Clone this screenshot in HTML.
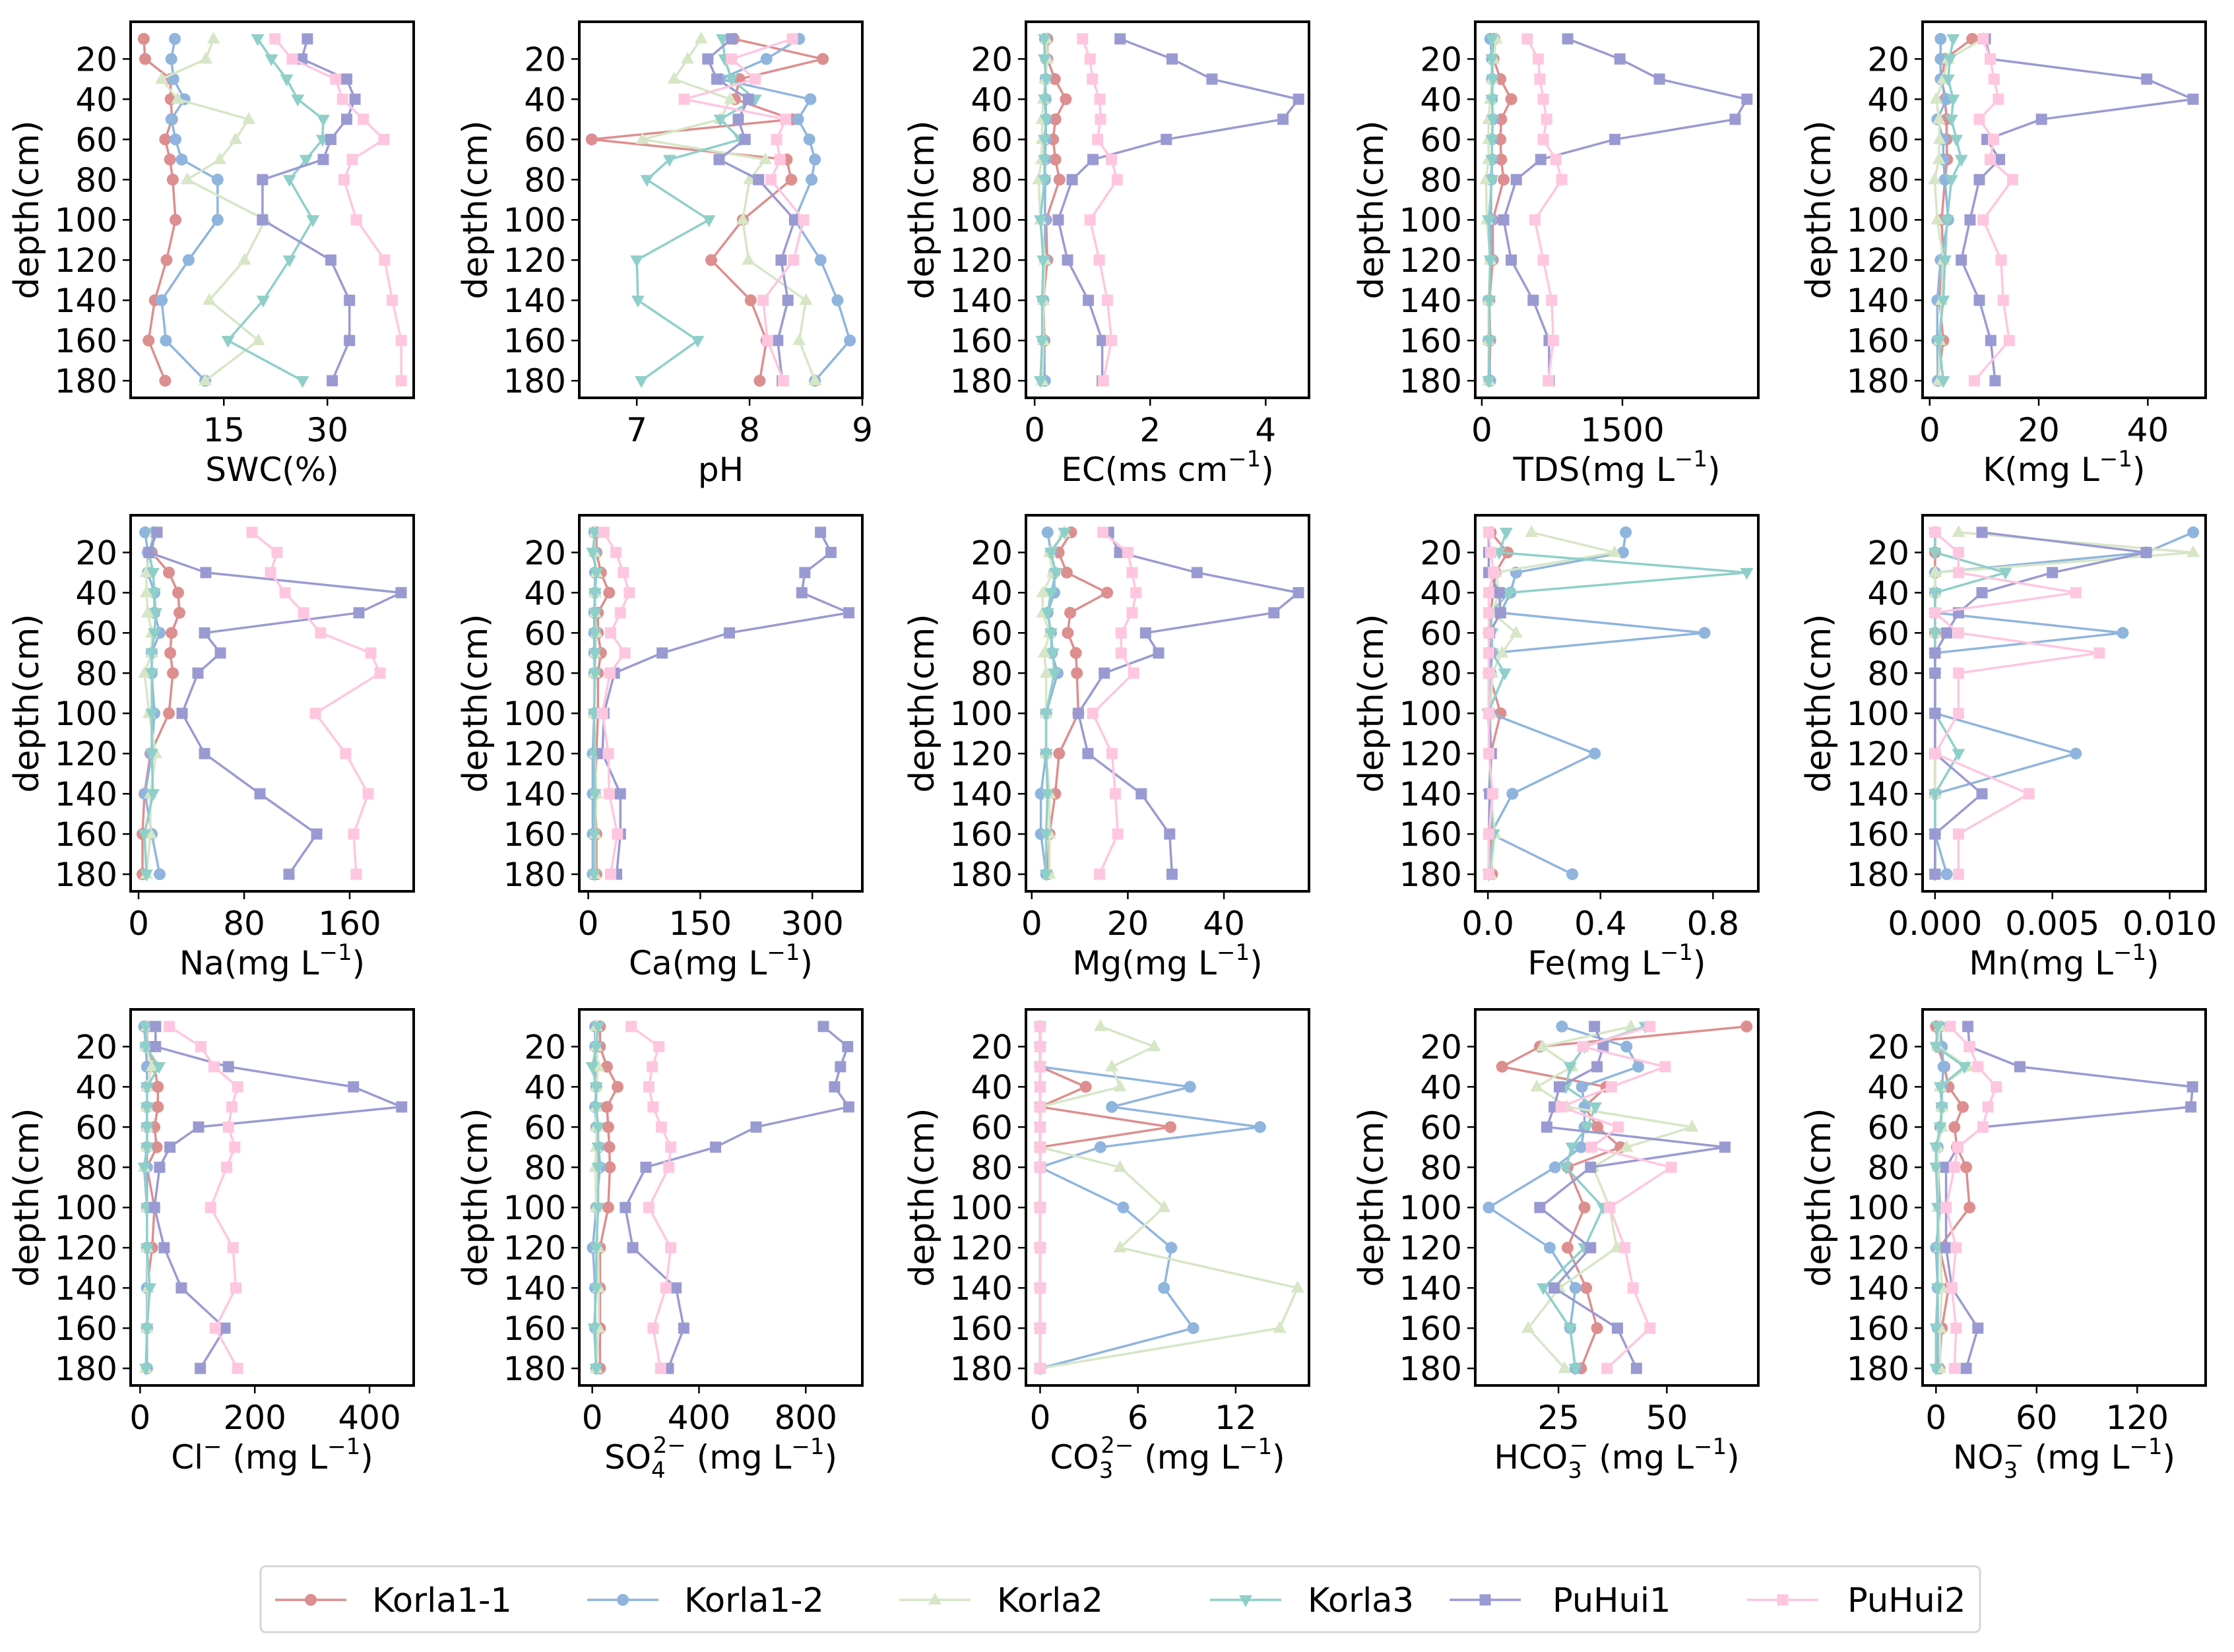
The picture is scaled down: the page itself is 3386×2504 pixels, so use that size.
<!DOCTYPE html>
<html><head><meta charset="utf-8"><style>
body{margin:0;background:#fff}
svg{display:block;font-family:"DejaVu Sans","Liberation Sans",sans-serif}
</style></head><body>
<svg id="fig" width="3386" height="2504" viewBox="0 0 3386 2504" xmlns="http://www.w3.org/2000/svg"></svg>
<script>
const depths=[10,20,30,40,50,60,70,80,100,120,140,160,180];
const seriesNames=["Korla1-1","Korla1-2","Korla2","Korla3","PuHui1","PuHui2"];
const yTicks=[20,40,60,80,100,120,140,160,180];
const swc=[[3.4,3.6,7.3,7.3,7.5,6.5,7.2,7.6,8.0,6.7,5.0,4.1,6.5],[7.9,7.4,7.7,9.3,7.4,8.0,8.9,14.1,14.1,9.9,6.0,6.6,12.3],[13.5,12.4,6.0,8.3,18.6,16.7,14.4,9.7,21.0,18.0,12.9,20.0,12.3],[19.9,21.9,24.1,25.7,29.4,29.3,26.9,24.5,27.9,24.5,20.7,15.6,26.4],[27.1,26.3,32.8,34.0,32.8,30.5,29.4,20.6,20.6,30.5,33.2,33.2,30.7],[22.4,24.9,31.2,32.2,35.2,38.2,33.6,32.4,34.2,38.3,39.4,40.7,40.7]];
const ph=[[7.86,8.65,7.91,7.87,8.38,6.6,8.33,8.37,7.94,7.66,8.01,8.15,8.09],[8.44,8.15,7.74,8.54,8.43,8.53,8.58,8.55,8.4,8.63,8.78,8.89,8.58],[7.57,7.45,7.33,7.83,7.74,7.05,8.14,8.0,7.94,7.99,8.5,8.44,8.58],[7.76,7.78,7.84,8.05,7.74,7.92,7.29,7.09,7.64,7.0,7.01,7.54,7.04],[7.84,7.63,7.71,7.99,7.9,7.96,7.73,8.08,8.4,8.28,8.34,8.25,8.29],[8.38,7.84,8.05,7.42,8.32,8.24,8.27,8.19,8.48,8.39,8.12,8.16,8.3]];
const ec=[[0.22,0.22,0.35,0.54,0.36,0.32,0.36,0.43,0.2,0.22,0.15,0.17,0.17],[0.18,0.2,0.19,0.19,0.2,0.19,0.18,0.18,0.18,0.18,0.15,0.15,0.18],[0.2,0.22,0.18,0.15,0.13,0.13,0.12,0.07,0.1,0.18,0.15,0.15,0.13],[0.17,0.17,0.2,0.17,0.2,0.17,0.17,0.17,0.1,0.15,0.13,0.13,0.1],[1.48,2.38,3.07,4.57,4.3,2.28,1.01,0.65,0.41,0.57,0.93,1.17,1.17],[0.83,0.96,1.0,1.13,1.14,1.09,1.33,1.43,0.96,1.12,1.26,1.33,1.19]];
const tds=[[135,126,198,314,207,198,207,233,117,117,81,90,81],[90,108,108,108,117,108,108,99,99,99,72,72,90],[153,126,108,90,72,72,72,45,54,90,72,72,72],[108,108,117,108,117,108,108,108,72,90,81,81,72],[916,1473,1895,2829,2703,1419,629,368,233,314,548,718,718],[485,602,620,656,692,656,790,853,566,656,745,763,709]];
const kk=[[7.8,2.8,2.2,2.8,3.1,3.1,3.2,2.8,2.2,2.5,1.8,2.5,1.5],[2.0,2.0,2.0,3.1,1.4,2.5,2.5,2.8,3.4,2.0,1.4,1.4,1.5],[9.8,3.4,2.5,1.2,1.7,1.8,1.7,0.9,1.4,2.5,2.2,1.8,1.7],[4.3,3.7,3.4,4.3,4.0,4.9,5.8,4.0,3.2,2.8,2.5,1.7,2.5],[10.2,11.1,39.8,48.3,20.5,10.5,12.8,9.1,7.4,5.8,9.1,11.2,12.0],[9.8,11.1,11.8,12.6,9.1,11.7,11.1,15.2,9.8,13.1,13.5,14.6,8.2]];
const na=[[12,10,23,30,31,25,24,26,23,9,4.5,3,3],[5,7,7,12,12,16,10,10,12,10,5,10,16],[12,9,6,6,7,10,10,4.5,8,13,9,9,6],[12,8,11,12,13,12,10,10,10,10,11,4.5,6],[14,8,51,199,167,50,62,45,33,50,92,135,114],[86,105,100,111,125,138,176,183,134,157,174,163,165]];
const ca=[[11,11,17,28,13,13,17,13,13,11,9,11,11],[8,9,9,9,8,8,8,8,8,6,6,6,6],[9,8,11,9,9,11,9,8,8,9,11,9,9],[9,6,11,9,9,9,9,9,8,8,9,8,8],[311,325,290,286,349,189,99,35,21,19,43,43,38],[21,37,47,55,43,30,49,29,19,27,28,39,30]];
const mg=[[8.2,5.6,7.3,15.7,8,7.5,9.2,9.4,9.7,5.7,4.9,3.7,3.3],[3.3,4,4.7,4.7,3.3,4,4.2,5.4,3,3,1.9,1.9,3],[6.8,3.7,4.4,2.3,2.3,3.7,2.6,3,3,3,3.7,3.7,3.7],[6.8,4,5,4,3.3,4,4.4,4.7,3,3,3.3,3,3],[16,18.3,34.4,55.5,50.4,23.7,26.4,15.1,9.7,11.7,22.8,28.7,29.2],[14.8,20,20.9,21.7,20.9,18.6,18.6,21.2,12.7,16.7,17.4,17.9,14.1]];
const fe=[[0.01,0.07,0.027,0.018,0.01,0.003,0.01,0.003,0.045,0.01,0.01,0.01,0.015],[0.49,0.48,0.1,0.08,0.045,0.77,0.015,0.01,0.01,0.38,0.087,0.01,0.3],[0.155,0.45,0.027,0.04,0.015,0.1,0.05,0.015,0.01,0.01,0.01,0.025,0.01],[0.065,0.04,0.92,0.075,0.01,0.015,0.015,0.06,0,0.01,0.003,0.02,0.003],[0.003,0.003,0.003,0.04,0.045,0.006,0.006,0.003,0.003,0.012,0.006,0.003,0.003],[0.003,0.01,0.02,0.003,0.003,0.003,0.003,0.003,0.003,0.003,0.017,0.003,0.003]];
const mn=[[0,0,0,0,0,0,0,0,0,0,0,0,0],[0.011,0.009,0,0,0,0.008,0,0,0,0.006,0,0,0.0005],[0.001,0.011,0,0,0,0,0,0,0,0,0,0,0],[0,0,0.003,0,0,0,0,0,0,0.001,0,0,0],[0.002,0.009,0.005,0.002,0.001,0.0005,0,0,0,0,0.002,0,0],[0,0.001,0.001,0.006,0,0.001,0.007,0.001,0.001,0,0.004,0.001,0.001]];
const cl=[[12,12,25,31,31,25,29,12,25,21,12,12,12],[7,10,12,12,12,12,12,12,12,12,12,12,12],[12,10,21,12,12,12,12,7,12,12,14,12,10],[10,10,33,12,12,12,12,7,12,12,17,12,10],[27,27,154,372,456,102,52,34,25,42,72,148,105],[51,106,129,170,160,154,165,151,123,162,167,131,170]];
const so4=[[29,29,55,95,55,60,64,66,60,29,29,29,29],[11,11,11,15,11,15,24,29,15,2,11,11,15],[15,15,22,15,15,15,15,11,15,22,24,24,15],[22,15,0,15,15,22,22,22,22,15,15,7,15],[866,957,930,908,961,614,462,201,124,152,314,343,285],[146,250,225,212,228,259,294,287,212,294,276,228,256]];
const co3=[[0,0,0,2.8,0,8.0,0,0,0,0,0,0,0],[0,0,0,9.2,4.4,13.5,3.7,0,5.1,8.05,7.6,9.4,0],[3.7,7.0,4.4,4.9,0,0,0,4.9,7.6,4.9,15.8,14.7,0],[0,0,0,0,0,0,0,0,0,0,0,0,0],[0,0,0,0,0,0,0,0,0,0,0,0,0],[0,0,0,0,0,0,0,0,0,0,0,0,0]];
const hco3=[[68.4,20.7,12,36,31,34,39.3,27.1,31,27.1,31.4,33.9,30.2],[25.8,40.7,43.4,30.4,31,31,30.2,24.2,8.9,23,28.9,27.7,28.9],[41.7,21.3,28.1,20,27.1,55.8,40.7,33,36.8,38.4,25.2,18,26.4],[45,31,27.7,26.7,33.5,31.6,28.1,26.7,35.3,31,21.5,27.7,28.9],[33.3,35.3,33.9,25.2,24,22.3,63.4,32.4,20.7,32.4,24,38.6,43],[46.1,30.6,49.6,37.2,25.6,38.8,32.6,51,36.8,40.3,42.2,46.1,36.2]];
const no3=[[0,1,5,7.5,16,11,12.5,18,20,2,7.5,3.5,2],[2.5,3.5,4.5,3.5,3.5,2.5,1,1,2.5,0,1,1,1],[2.5,1,19,2.5,3.5,3.5,1,1,1,2.5,3.5,2.5,2.5],[1,0,17,2.5,3.5,2.5,0,0,1,1,1,0,0],[19,20,50,153,152,28,13,6,6,6,9.5,25,18],[8.5,20,25,36,31,28,13,11,6,12,9.5,12,11]];

const panels=[
 {d:swc,lim:[1.5,42.5],ticks:[15,30],lab:["SWC(%)"],name:"swc"},
 {d:ph,lim:[6.49,9.0],ticks:[7,8,9],lab:["pH"],name:"ph"},
 {d:ec,lim:[-0.15,4.75],ticks:[0,2,4],lab:["EC(ms cm",["−1"],")"],name:"ec"},
 {d:tds,lim:[-70,2950],ticks:[0,1500],lab:["TDS(mg L",["−1"],")"],name:"tds"},
 {d:kk,lim:[-1.3,50.6],ticks:[0,20,40],lab:["K(mg L",["−1"],")"],name:"k"},
 {d:na,lim:[-6,208.5],ticks:[0,80,160],lab:["Na(mg L",["−1"],")"],name:"na"},
 {d:ca,lim:[-12,367],ticks:[0,150,300],lab:["Ca(mg L",["−1"],")"],name:"ca"},
 {d:mg,lim:[-1.2,57.7],ticks:[0,20,40],lab:["Mg(mg L",["−1"],")"],name:"mg"},
 {d:fe,lim:[-0.045,0.961],ticks:[0,0.4,0.8],fmt:v=>v.toFixed(1),lab:["Fe(mg L",["−1"],")"],name:"fe"},
 {d:mn,lim:[-0.00053,0.01153],ticks:[0,0.005,0.01],fmt:v=>v.toFixed(3),lab:["Mn(mg L",["−1"],")"],name:"mn"},
 {d:cl,lim:[-16.5,477],ticks:[0,200,400],lab:["Cl",["−"]," (mg L",["−1"],")"],name:"cl"},
 {d:so4,lim:[-48.6,1012],ticks:[0,400,800],lab:["SO",[null,"4","2−"]," (mg L",["−1"],")"],name:"so4"},
 {d:co3,lim:[-0.87,16.5],ticks:[0,6,12],lab:["CO",[null,"3","2−"]," (mg L",["−1"],")"],name:"co3"},
 {d:hco3,lim:[5.8,71.1],ticks:[25,50],lab:["HCO",[null,"3","−"]," (mg L",["−1"],")"],name:"hco3"},
 {d:no3,lim:[-8,160.8],ticks:[0,60,120],lab:["NO",[null,"3","−"]," (mg L",["−1"],")"],name:"no3"}
];
const colors=["#dd8e8e","#8fb5de","#d6e6c6","#8fcfca","#9a9ad2","#ffc6df"];
const markers=["circle","circle","tri-up","tri-down","square","square"];
const colX=[198,878,1555,2236,2914], rowY=[33,781,1530], W=429, H=570;
const NS="http://www.w3.org/2000/svg";
const svg=document.getElementById('fig');
function mk(tag,attrs,parent){const e=document.createElementNS(NS,tag);for(const k in attrs)e.setAttribute(k,attrs[k]);(parent||svg).appendChild(e);return e;}
function marker(g,type,x,y,c){
 let e;
 if(type==="circle")e=mk('circle',{cx:x,cy:y,r:9,fill:c},g);
 else if(type==="square")e=mk('rect',{x:x-8.5,y:y-8.5,width:17,height:17,fill:c},g);
 else if(type==="tri-up")e=mk('polygon',{points:`${x},${y-11} ${x-10},${y+7} ${x+10},${y+7}`,fill:c},g);
 else e=mk('polygon',{points:`${x},${y+11} ${x-10},${y-7} ${x+10},${y-7}`,fill:c},g);
 
 
}
function addLabel(t,parts){
 parts.forEach(p=>{
  if(typeof p==="string"){const s=mk('tspan',{},t);s.textContent=p;}
  else if(p[0]!==null){const s=mk('tspan',{dy:-22,'font-size':34},t);s.textContent=p[0];const b=mk('tspan',{dy:22},t);b.textContent="\u200b";}
  else{const s1=mk('tspan',{dy:14,'font-size':34},t);s1.textContent=p[1];const s2=mk('tspan',{dx:-19,dy:-38,'font-size':34},t);s2.textContent=p[2];const b=mk('tspan',{dy:24},t);b.textContent="\u200b";}
 });
}
panels.forEach((p,i)=>{
 const L=colX[i%5],T=rowY[Math.floor(i/5)];
 const g=mk('g',{});
 
 
 const xs=v=>L+(v-p.lim[0])/(p.lim[1]-p.lim[0])*W;
 const ys=d=>T+(d-1.5)/(188.5-1.5)*H;
 p.d.forEach((vals,s)=>{
  const sg=mk('g',{},g);
  
  
  const pts=vals.map((v,k)=>xs(v).toFixed(1)+","+ys(depths[k]).toFixed(1)).join(" ");
  mk('polyline',{points:pts,fill:'none',stroke:colors[s],'stroke-width':3.5,'stroke-linejoin':'round'},sg);
  vals.forEach((v,k)=>marker(sg,markers[s],xs(v),ys(depths[k]),colors[s]));
 });
 const fr=mk('rect',{x:L,y:T,width:W,height:H,fill:'none',stroke:'#000','stroke-width':4},g);
 
 
 yTicks.forEach(d=>{
  mk('line',{x1:L,x2:L-12,y1:ys(d),y2:ys(d),stroke:'#000','stroke-width':2.5},g);
  const t=mk('text',{x:L-20,y:ys(d)+18,'text-anchor':'end','font-size':50},g);
  
  
  t.textContent=d;
 });
 p.ticks.forEach(v=>{
  mk('line',{x1:xs(v),x2:xs(v),y1:T+H,y2:T+H+12,stroke:'#000','stroke-width':2.5},g);
  const t=mk('text',{x:xs(v),y:T+H+66,'text-anchor':'middle','font-size':50},g);
  
  
  t.textContent=p.fmt?p.fmt(v):v;
 });
 const yl=mk('text',{x:0,y:0,'text-anchor':'middle','font-size':52,transform:`translate(${L-140},${T+H/2}) rotate(-90)`},g);
 
 
 yl.textContent="depth(cm)";
 const xl=mk('text',{x:L+W/2,y:T+H+126,'text-anchor':'middle','font-size':50},g);
 
 
 addLabel(xl,p.lab);
});
// legend
const lg=mk('g',{});


mk('rect',{x:395,y:2374,width:2606,height:100,rx:8,fill:'#fff',stroke:'#d6d6d6','stroke-width':3},lg);
const lineX=[417,890,1363,1834,2197,2648], textX=[564,1037,1511,1982,2353,2800];
seriesNames.forEach((n,s)=>{
 const e=mk('g',{},lg);
 
 
 mk('line',{x1:lineX[s],x2:lineX[s]+108,y1:2425,y2:2425,stroke:colors[s],'stroke-width':3.5},e);
 marker(e,markers[s],lineX[s]+54,2425,colors[s]);
 const t=mk('text',{x:textX[s],y:2443,'font-size':51},e);
 t.textContent=n;
});
</script>
</body></html>
